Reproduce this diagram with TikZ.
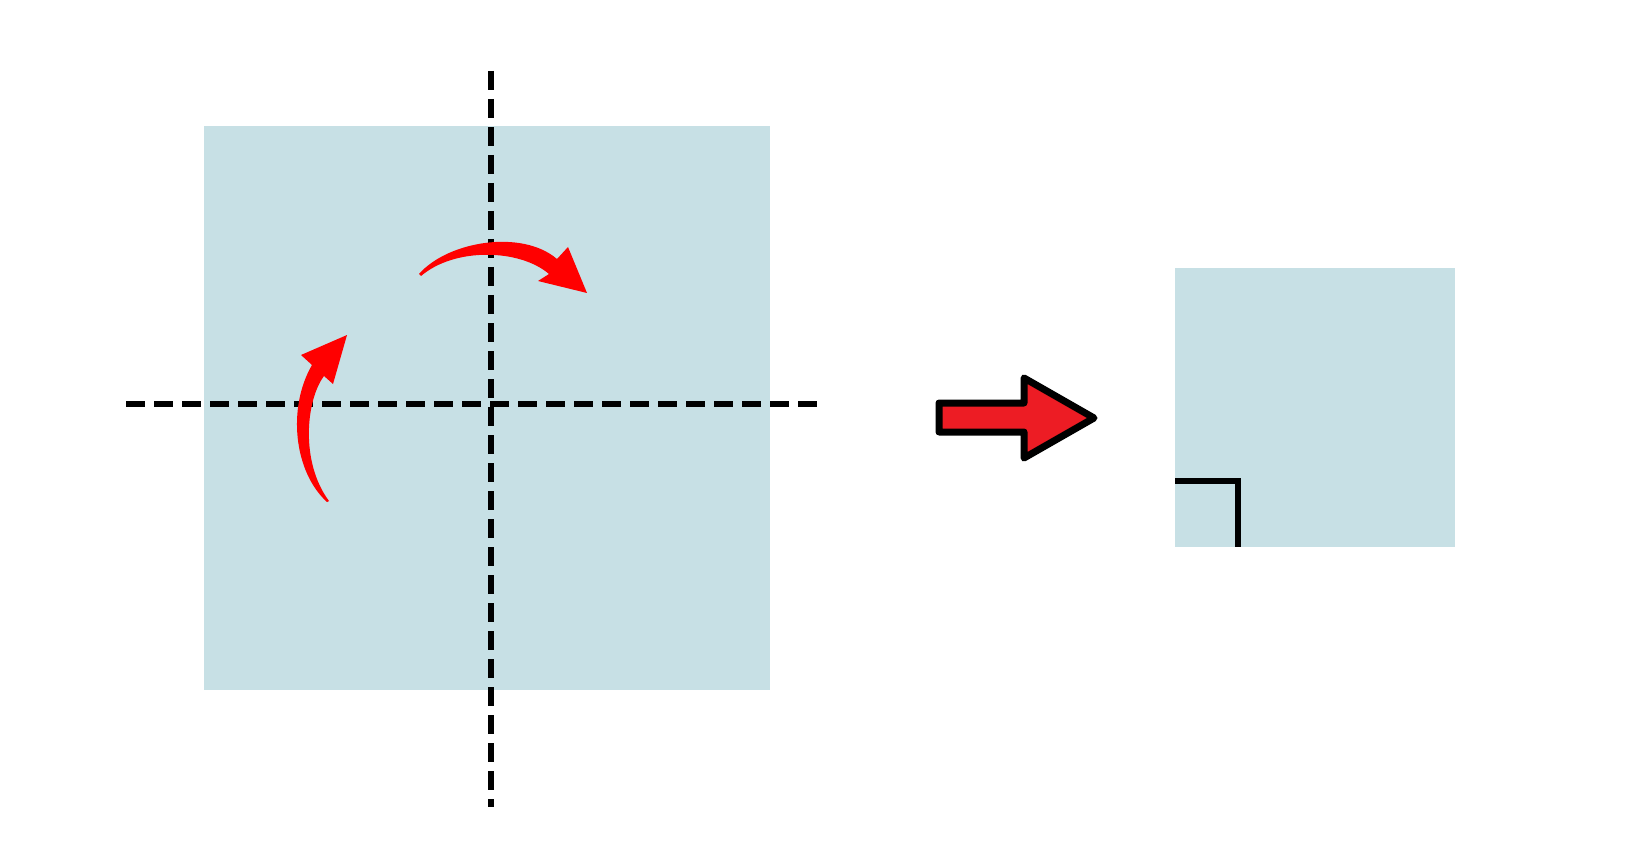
\documentclass[tikz,border=0pt]{standalone}
\usetikzlibrary{calc}
\definecolor{paper}{RGB}{199,224,229}
\definecolor{bigred}{RGB}{237,28,36}
\tikzset{
  sheet/.style={fill=paper, draw=none},
  foldline/.style={line width=6pt, dash pattern=on 19pt off 9pt, black},
  turnarrow/.style={fill=red, draw=none},
  goarrow/.style={fill=bigred, draw=black, line width=7pt, line join=round},
  crease/.style={line width=6pt, black}
}
\begin{document}
\begin{tikzpicture}[x=1pt,y=-1pt]
\useasboundingbox (0,0) rectangle (1642,853);
% big sheet
\fill[sheet] (204,126) rectangle (770,690);
% fold lines
\draw[foldline] (126,404) -- (817,404);
\draw[foldline] (491,71) -- (491,807);
% top curved arrow
\fill[turnarrow] (419,274) .. controls (448,241) and (522,229) .. (557,259)
  -- (568,247) -- (587,293) -- (538,281) -- (549,274)
  .. controls (520,249) and (455,247) .. (421,276) -- cycle;
% left curved arrow
\fill[turnarrow] (327,502) .. controls (294,472) and (287,408) .. (312,365)
  -- (301,355) -- (347,335) -- (333,384) -- (324,376)
  .. controls (306,400) and (300,462) .. (329,501) -- cycle;
% big arrow
\draw[goarrow] (939,403) -- (1024,403) -- (1024,378) -- (1094,418)
  -- (1024,458) -- (1024,432) -- (939,432) -- cycle;
% small folded sheet
\fill[sheet] (1175,268) rectangle (1455,547);
\draw[crease] (1175,481) -- (1238,481) -- (1238,547);
\end{tikzpicture}
\end{document}
